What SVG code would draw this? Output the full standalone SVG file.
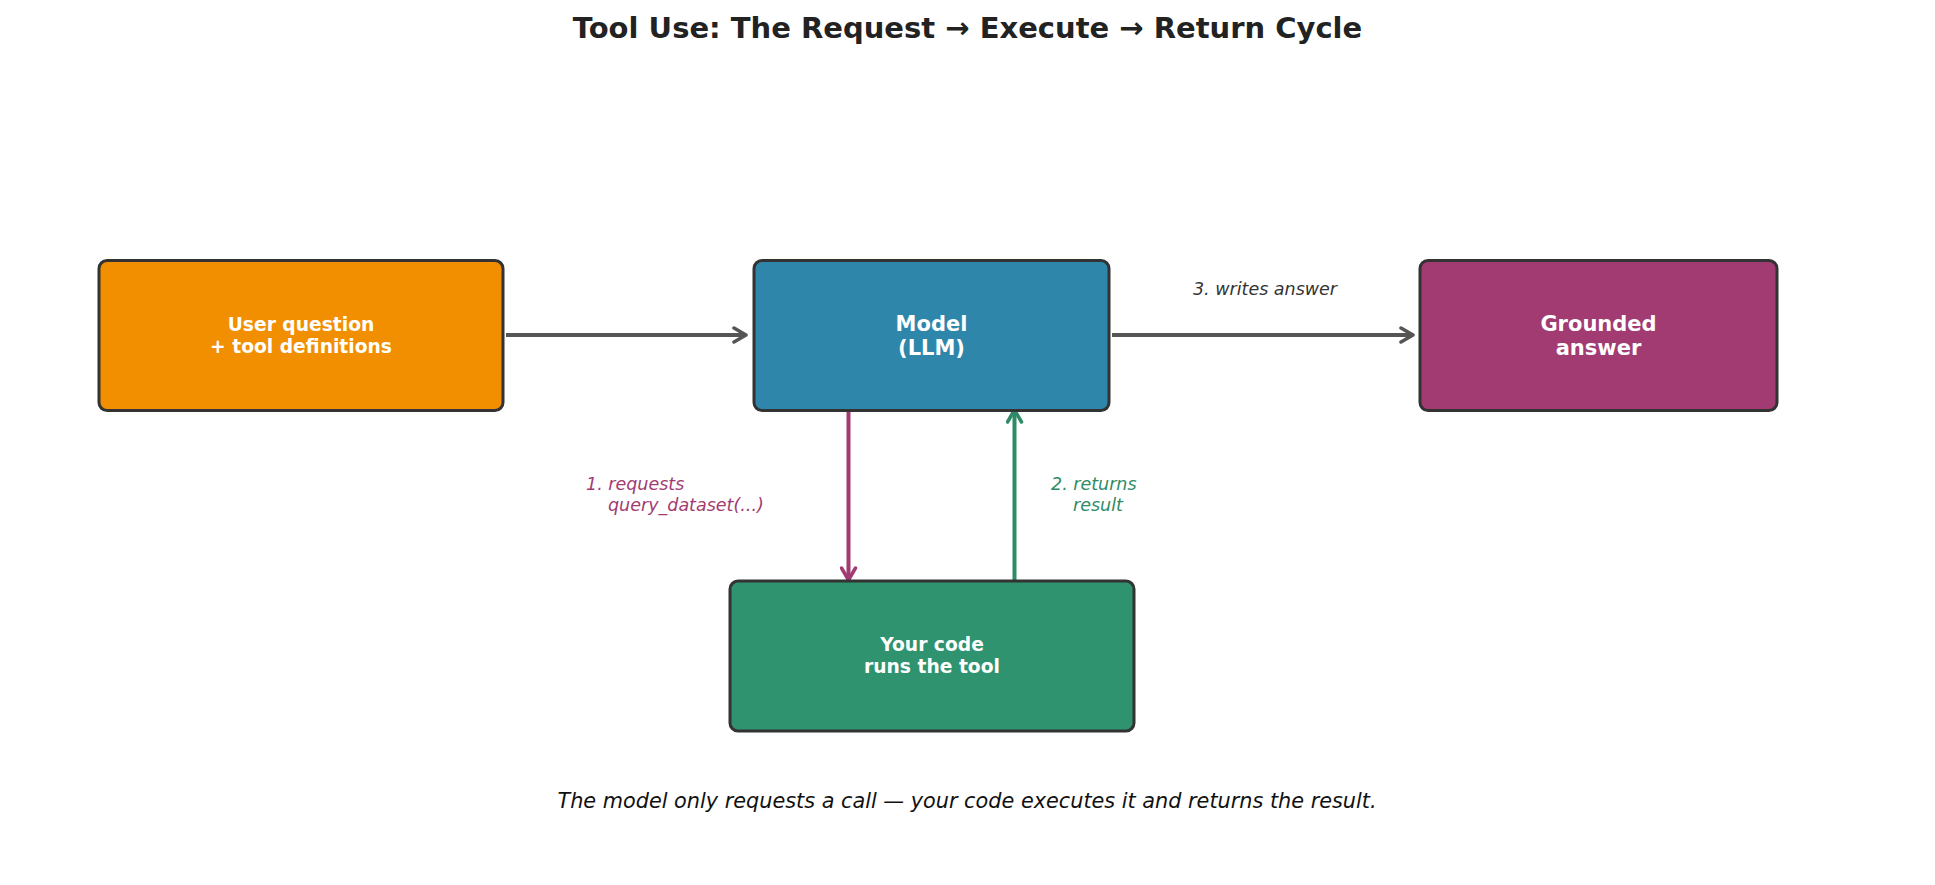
<svg xmlns="http://www.w3.org/2000/svg" width="1935" height="885" viewBox="0 0 1935 885">
<style>
  .box { stroke: #333333; stroke-width: 3; }
  .lbl { font-family: "DejaVu Sans", sans-serif; font-weight: bold; fill: #ffffff; text-anchor: middle; }
  .elbl { font-family: "DejaVu Sans", sans-serif; font-style: italic; font-size: 17.5px; }
  .conn { fill: none; stroke-width: 4; }
</style>
<defs>
  <marker id="ahGray" viewBox="0 0 16 18" refX="14" refY="9" markerWidth="16" markerHeight="18" markerUnits="userSpaceOnUse" orient="auto">
    <path d="M2,2 L14,9 L2,16" fill="none" stroke="#555555" stroke-width="3.5" stroke-linecap="round" stroke-linejoin="round"/>
  </marker>
  <marker id="ahMag" viewBox="0 0 16 18" refX="14" refY="9" markerWidth="16" markerHeight="18" markerUnits="userSpaceOnUse" orient="auto">
    <path d="M2,2 L14,9 L2,16" fill="none" stroke="#A23B72" stroke-width="3.5" stroke-linecap="round" stroke-linejoin="round"/>
  </marker>
  <marker id="ahGreen" viewBox="0 0 16 18" refX="14" refY="9" markerWidth="16" markerHeight="18" markerUnits="userSpaceOnUse" orient="auto">
    <path d="M2,2 L14,9 L2,16" fill="none" stroke="#2E8B67" stroke-width="3.5" stroke-linecap="round" stroke-linejoin="round"/>
  </marker>
</defs>
<rect width="1935" height="885" fill="#ffffff"/>
<text x="967.5" y="37.5" font-family="DejaVu Sans, sans-serif" font-weight="bold" font-size="29px" fill="#222222" text-anchor="middle">Tool Use: The Request → Execute → Return Cycle</text>

<g id="connectors">
  <line class="conn" x1="506" y1="335" x2="746" y2="335" stroke="#555555" marker-end="url(#ahGray)"/>
  <line class="conn" x1="1112" y1="335" x2="1413" y2="335" stroke="#555555" marker-end="url(#ahGray)"/>
  <line class="conn" x1="848.5" y1="405" x2="848.5" y2="580" stroke="#A23B72" marker-end="url(#ahMag)"/>
  <line class="conn" x1="1014.5" y1="580" x2="1014.5" y2="410" stroke="#2E8B67" marker-end="url(#ahGreen)"/>
  <text class="elbl" x="1265" y="295" fill="#333333" text-anchor="middle">3. writes answer</text>
  <text class="elbl" fill="#A23B72"><tspan x="586" y="490">1. requests</tspan><tspan x="608" y="511">query_dataset(...)</tspan></text>
  <text class="elbl" fill="#2E8B67"><tspan x="1051" y="490">2. returns</tspan><tspan x="1073" y="511">result</tspan></text>
</g>

<g id="node-user">
  <rect class="box" x="99" y="260.5" width="404" height="150" rx="8" fill="#F18F01"/>
  <text class="lbl" font-size="18.7px"><tspan x="301" y="331">User question</tspan><tspan x="301" y="353">+ tool definitions</tspan></text>
</g>
<g id="node-model">
  <rect class="box" x="754" y="260.5" width="355" height="150" rx="8" fill="#2E86AB"/>
  <text class="lbl" font-size="21px"><tspan x="931.5" y="331">Model</tspan><tspan x="931.5" y="355">(LLM)</tspan></text>
</g>
<g id="node-answer">
  <rect class="box" x="1420" y="260.5" width="357" height="150" rx="8" fill="#A23B72"/>
  <text class="lbl" font-size="21px"><tspan x="1598.5" y="331">Grounded</tspan><tspan x="1598.5" y="355">answer</tspan></text>
</g>
<g id="node-code">
  <rect class="box" x="730" y="581" width="404" height="150" rx="8" fill="#2E936E"/>
  <text class="lbl" font-size="18.7px"><tspan x="932" y="651">Your code</tspan><tspan x="932" y="673">runs the tool</tspan></text>
</g>

<text x="967" y="808" font-family="DejaVu Sans, sans-serif" font-style="italic" font-size="20.8px" fill="#111111" text-anchor="middle">The model only requests a call — your code executes it and returns the result.</text>
</svg>
